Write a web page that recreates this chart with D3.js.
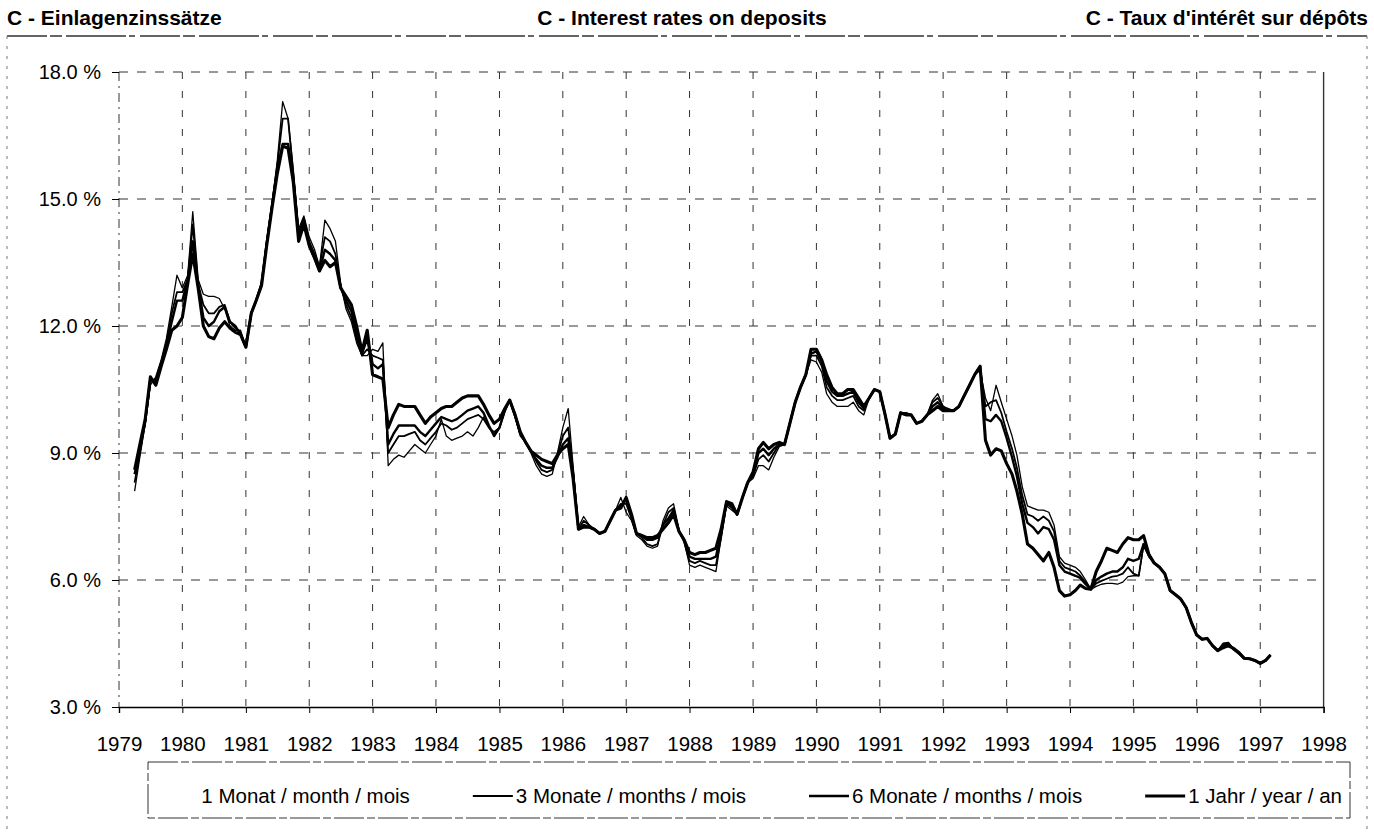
<!DOCTYPE html>
<html><head><meta charset="utf-8">
<script src="https://cdn.jsdelivr.net/npm/d3@7"></script>
<style>
body{margin:0;background:#fff}
svg{display:block}
text{font-family:"Liberation Sans",Arial,Helvetica,sans-serif;fill:#000}
</style>
</head><body>
<svg id="chart" width="1374" height="835"></svg>
<script>
// ---------------- data ----------------
const titles = ["C - Einlagenzinssätze", "C - Interest rates on deposits", "C - Taux d'intérêt sur dépôts"];
const firstMonth = [1979, 3];   // April 1979 (month index 0-based)
const lastMonth = [1997, 2];    // March 1997
const yTickValues = [3, 6, 9, 12, 15, 18];
const xTickLabels = ["1979","1980","1981","1982","1983","1984","1985","1986","1987","1988","1989","1990","1991","1992","1993","1994","1995","1996","1997","1998"];
const seriesNames = ["1 Monat / month / mois", "3 Monate / months / mois", "6 Monate / months / mois", "1 Jahr / year / an"];

const oneMonth = [
  8.1, 8.9, 9.7, 10.6, 10.8, 11.2, 11.7, 12.45, 13.2,
  12.9, 13.2, 14.7, 13.1, 12.75, 12.7, 12.7, 12.65, 12.4, 12.0, 11.9, 11.9,
  11.5, 12.3, 12.6, 13.0, 14.0, 14.9, 15.9, 17.3, 16.9, 15.7, 14.3, 14.6,
  14.1, 13.8, 13.4, 14.5, 14.3, 14.0, 13.0, 12.4, 12.1, 11.6, 11.3, 11.3,
  11.45, 11.4, 11.6, 8.7, 8.85, 8.95, 8.9, 9.05, 9.2, 9.1, 9.0, 9.2,
  9.4, 9.8, 9.4, 9.3, 9.35, 9.4, 9.5, 9.4, 9.6, 9.85, 9.6, 9.5,
  9.6, 10.0, 10.25, 9.85, 9.4, 9.25, 9.0, 8.7, 8.5, 8.45, 8.5, 9.0,
  9.6, 10.05, 8.7, 7.25, 7.5, 7.3, 7.2, 7.1, 7.15, 7.4, 7.65, 7.95,
  7.6, 7.4, 7.05, 6.95, 6.8, 6.75, 6.8, 7.4, 7.7, 7.8, 7.2, 6.9,
  6.35, 6.3, 6.35, 6.3, 6.25, 6.2, 7.0, 7.75, 7.65, 7.55, 7.95, 8.3,
  8.4, 8.7, 8.7, 8.6, 8.9, 9.15, 9.2, 9.7, 10.2, 10.55, 10.85, 11.2,
  11.15, 10.9, 10.4, 10.2, 10.1, 10.1, 10.1, 10.2, 10.0, 9.9, 10.3, 10.5,
  10.45, 9.9, 9.35, 9.45, 9.95, 9.95, 9.9, 9.7, 9.75, 9.9, 10.25, 10.4,
  10.1, 10.05, 10.0, 10.1, 10.35, 10.6, 10.85, 10.95, 10.3, 10.0, 10.6, 10.2,
  9.8, 9.4, 8.95, 8.2, 7.75, 7.7, 7.65, 7.65, 7.6, 7.3, 6.55, 6.4,
  6.35, 6.3, 6.2, 6.0, 5.78, 5.85, 5.9, 5.92, 5.92, 5.9, 5.95, 6.08,
  6.1, 6.1, 6.8, 6.55, 6.4, 6.3, 6.15, 5.75, 5.65, 5.55, 5.35, 5.0,
  4.7, 4.6, 4.62, 4.45, 4.33, 4.45, 4.52, 4.38, 4.28, 4.15, 4.14, 4.1,
  4.03, 4.1, 4.23
];
const threeMonths = [
  8.3, 9.0, 9.7, 10.7, 10.75, 11.15, 11.6, 12.3, 12.8,
  12.8, 13.1, 14.4, 13.0, 12.5, 12.3, 12.3, 12.45, 12.5, 12.1, 11.95, 11.85,
  11.5, 12.3, 12.6, 13.0, 14.0, 14.9, 15.8, 16.9, 16.9, 15.6, 14.2, 14.55,
  14.0, 13.7, 13.4, 14.1, 14.0, 13.7, 12.95, 12.5, 12.2, 11.7, 11.3, 11.45,
  11.3, 11.25, 11.2, 9.0, 9.2, 9.4, 9.4, 9.45, 9.5, 9.3, 9.2, 9.35,
  9.5, 9.7, 9.65, 9.55, 9.6, 9.7, 9.8, 9.85, 9.9, 9.8, 9.6, 9.45,
  9.6, 10.0, 10.25, 9.85, 9.45, 9.25, 9.05, 8.8, 8.6, 8.55, 8.6, 8.95,
  9.4, 9.6, 8.6, 7.2, 7.4, 7.3, 7.2, 7.1, 7.15, 7.4, 7.65, 7.8,
  7.8, 7.45, 7.1, 7.0, 6.85, 6.8, 6.85, 7.3, 7.6, 7.7, 7.15, 6.9,
  6.45, 6.4, 6.45, 6.4, 6.35, 6.35, 7.0, 7.8, 7.7, 7.55, 7.95, 8.3,
  8.45, 8.85, 8.95, 8.8, 9.0, 9.2, 9.2, 9.7, 10.2, 10.55, 10.85, 11.3,
  11.3, 11.05, 10.55, 10.35, 10.25, 10.25, 10.3, 10.35, 10.1, 10.0, 10.3, 10.5,
  10.45, 9.9, 9.35, 9.45, 9.95, 9.95, 9.9, 9.7, 9.75, 9.9, 10.2, 10.3,
  10.1, 10.0, 10.0, 10.1, 10.35, 10.6, 10.85, 11.0, 10.1, 10.2, 10.25, 9.95,
  9.5, 9.1, 8.65, 8.0, 7.55, 7.5, 7.4, 7.5, 7.4, 7.15, 6.45, 6.3,
  6.25, 6.2, 6.1, 5.95, 5.78, 5.92, 5.98, 6.03, 6.08, 6.1, 6.15, 6.3,
  6.15, 6.1, 6.85, 6.55, 6.4, 6.3, 6.15, 5.75, 5.65, 5.55, 5.35, 5.0,
  4.7, 4.6, 4.62, 4.45, 4.33, 4.5, 4.52, 4.35, 4.25, 4.15, 4.14, 4.1,
  4.03, 4.1, 4.23
];
const sixMonths = [
  8.5, 9.1, 9.75, 10.75, 10.7, 11.1, 11.55, 12.1, 12.6,
  12.6, 13.1, 14.0, 12.95, 12.2, 12.0, 12.1, 12.35, 12.45, 12.1, 12.0, 11.8,
  11.5, 12.3, 12.6, 13.0, 13.95, 14.85, 15.7, 16.3, 16.3, 15.5, 14.1, 14.5,
  13.9, 13.6, 13.3, 13.8, 13.7, 13.55, 12.9, 12.6, 12.35, 11.8, 11.35, 11.7,
  11.1, 11.0, 11.1, 9.2, 9.45, 9.65, 9.65, 9.65, 9.65, 9.5, 9.4, 9.55,
  9.7, 9.85, 9.8, 9.75, 9.8, 9.9, 10.0, 10.05, 10.1, 9.95, 9.65, 9.4,
  9.6, 10.0, 10.25, 9.9, 9.45, 9.25, 9.05, 8.85, 8.7, 8.65, 8.65, 8.9,
  9.2, 9.35, 8.5, 7.2, 7.3, 7.25, 7.2, 7.1, 7.15, 7.4, 7.65, 7.75,
  7.9, 7.5, 7.1, 7.05, 6.95, 6.95, 7.0, 7.3, 7.45, 7.65, 7.15, 6.95,
  6.55, 6.5, 6.5, 6.5, 6.5, 6.55, 7.1, 7.85, 7.75, 7.55, 7.95, 8.3,
  8.5, 9.0, 9.1, 8.95, 9.1, 9.2, 9.2, 9.7, 10.2, 10.55, 10.85, 11.35,
  11.4, 11.15, 10.7, 10.45, 10.35, 10.35, 10.4, 10.45, 10.2, 10.05, 10.3, 10.5,
  10.45, 9.9, 9.35, 9.45, 9.95, 9.9, 9.9, 9.7, 9.75, 9.9, 10.1, 10.2,
  10.05, 10.0, 10.0, 10.1, 10.35, 10.6, 10.85, 11.05, 9.8, 9.75, 9.9, 9.75,
  9.35, 8.9, 8.45, 7.8, 7.35, 7.25, 7.1, 7.25, 7.2, 6.95, 6.35, 6.2,
  6.15, 6.1, 6.05, 5.9, 5.78, 6.0, 6.08, 6.15, 6.2, 6.2, 6.3, 6.5,
  6.45, 6.5, 6.85, 6.6, 6.4, 6.3, 6.15, 5.75, 5.65, 5.55, 5.35, 5.0,
  4.7, 4.6, 4.62, 4.45, 4.33, 4.45, 4.47, 4.38, 4.28, 4.15, 4.14, 4.1,
  4.03, 4.1, 4.23
];
const oneYear = [
  8.6, 9.2, 9.8, 10.8, 10.6, 11.05, 11.45, 11.9, 12.0,
  12.2, 13.0, 13.7, 12.9, 12.0, 11.75, 11.7, 11.95, 12.1, 11.95, 11.85, 11.8,
  11.5, 12.3, 12.6, 12.95, 13.9, 14.8, 15.6, 16.25, 16.2, 15.4, 14.0, 14.4,
  13.9, 13.6, 13.3, 13.55, 13.4, 13.5, 12.9, 12.7, 12.5, 12.0, 11.4, 11.9,
  10.85, 10.8, 10.75, 9.6, 9.9, 10.15, 10.1, 10.1, 10.1, 9.9, 9.7, 9.85,
  9.95, 10.05, 10.1, 10.1, 10.2, 10.3, 10.35, 10.35, 10.35, 10.15, 9.9, 9.7,
  9.8, 10.05, 10.25, 9.9, 9.5, 9.25, 9.05, 8.95, 8.85, 8.8, 8.75, 8.95,
  9.1, 9.2, 8.4, 7.2, 7.25, 7.25, 7.2, 7.1, 7.15, 7.4, 7.65, 7.7,
  7.95, 7.55, 7.1, 7.05, 7.0, 7.0, 7.05, 7.2, 7.35, 7.55, 7.15, 6.95,
  6.65, 6.6, 6.65, 6.65, 6.7, 6.75, 7.2, 7.85, 7.8, 7.55, 7.95, 8.3,
  8.55, 9.1, 9.25, 9.1, 9.2, 9.25, 9.2, 9.7, 10.2, 10.55, 10.85, 11.45,
  11.45, 11.2, 10.85, 10.55, 10.4, 10.4, 10.5, 10.5, 10.3, 10.1, 10.3, 10.5,
  10.45, 9.9, 9.35, 9.45, 9.95, 9.9, 9.9, 9.7, 9.75, 9.9, 10.0, 10.1,
  10.0, 10.0, 10.0, 10.1, 10.35, 10.6, 10.85, 11.05, 9.3, 8.95, 9.1, 9.05,
  8.75, 8.5, 8.1, 7.55, 6.85, 6.75, 6.6, 6.45, 6.65, 6.3, 5.75, 5.62,
  5.65, 5.75, 5.88, 5.8, 5.78, 6.2, 6.45, 6.75, 6.7, 6.65, 6.85, 7.0,
  6.95, 6.95, 7.05, 6.6, 6.4, 6.3, 6.15, 5.75, 5.65, 5.55, 5.35, 5.0,
  4.7, 4.6, 4.62, 4.45, 4.33, 4.4, 4.45, 4.38, 4.28, 4.15, 4.14, 4.1,
  4.03, 4.1, 4.23
];
const seriesValues = [oneMonth, threeMonths, sixMonths, oneYear];
const seriesWidths = [1.3, 1.8, 2.4, 3.1];

// ---------------- layout ----------------
const svg = d3.select("#chart");
const plot = {left: 119, right: 1323.6, top: 72, bottom: 707};
const labelFont = 20.5;

const months = d3.timeMonth.range(new Date(firstMonth[0], firstMonth[1], 1), new Date(lastMonth[0], lastMonth[1] + 1, 1));

const x = d3.scaleTime()
  .domain([new Date(+xTickLabels[0], 0, 1), new Date(+xTickLabels[xTickLabels.length - 1], 0, 1)])
  .range([plot.left, plot.right]);
const y = d3.scaleLinear().domain([3, 18]).range([plot.bottom, plot.top]);

// outer frame
const frame = svg.append("g").attr("stroke", "#333").attr("fill", "none");
frame.append("line").attr("x1", 7).attr("x2", 1367).attr("y1", 36).attr("y2", 36)
  .attr("stroke-dasharray", "40,3,12,4,60,3,6,5").attr("stroke-width", 1.3);
frame.append("line").attr("x1", 7).attr("x2", 7).attr("y1", 36).attr("y2", 835)
  .attr("stroke-dasharray", "3,7").attr("stroke-width", 1).attr("stroke", "#777");
frame.append("line").attr("x1", 1367).attr("x2", 1367).attr("y1", 36).attr("y2", 835)
  .attr("stroke-dasharray", "3,7").attr("stroke-width", 1).attr("stroke", "#777");

// titles
svg.append("text").attr("x", 7).attr("y", 25).attr("font-size", 21).attr("font-weight", "bold").text(titles[0]);
svg.append("text").attr("x", 682).attr("y", 25).attr("text-anchor", "middle").attr("font-size", 21).attr("font-weight", "bold").text(titles[1]);
svg.append("text").attr("x", 1368).attr("y", 25).attr("text-anchor", "end").attr("font-size", 21).attr("font-weight", "bold").text(titles[2]);

// grid
const yearDates = xTickLabels.map(s => new Date(+s, 0, 1));
const grid = svg.append("g").attr("stroke", "#333").attr("fill", "none");
grid.selectAll("line.h").data(yTickValues.filter(v => v > 3)).join("line")
  .attr("x1", plot.left).attr("x2", plot.right)
  .attr("y1", d => y(d)).attr("y2", d => y(d))
  .attr("stroke-width", 1).attr("stroke-dasharray", "9,9");
grid.selectAll("line.v").data(yearDates.slice(1, -1)).join("line")
  .attr("x1", d => x(d)).attr("x2", d => x(d))
  .attr("y1", plot.top).attr("y2", plot.bottom)
  .attr("stroke-width", 1).attr("stroke-dasharray", "7,12");
// left axis (dash-dot) and right border
grid.append("line").attr("x1", plot.left).attr("x2", plot.left).attr("y1", plot.top).attr("y2", plot.bottom)
  .attr("stroke-dasharray", "9,5,2,5").attr("stroke-width", 1);
grid.append("line").attr("x1", plot.right).attr("x2", plot.right).attr("y1", plot.top).attr("y2", plot.bottom)
  .attr("stroke-width", 1.4);

// axes
const yAxis = d3.axisLeft(y).tickValues(yTickValues).tickSize(7).tickPadding(11)
  .tickFormat(d => d.toFixed(1) + " %");
const gy = svg.append("g").attr("transform", `translate(${plot.left},0)`).call(yAxis);
gy.select(".domain").remove();
gy.selectAll("text").attr("font-size", 20).attr("font-family", '"Liberation Sans",Arial,sans-serif');

const xAxis = d3.axisBottom(x).tickValues(yearDates).tickSize(6).tickPadding(23)
  .tickFormat((d, i) => xTickLabels[i]);
const gx = svg.append("g").attr("transform", `translate(0,${plot.bottom})`).call(xAxis);
gx.select(".domain").attr("stroke-width", 1.4);
gx.selectAll("text").attr("font-size", labelFont).attr("font-family", '"Liberation Sans",Arial,sans-serif');

// series lines
const line = d3.line().x((d, i) => x(months[i])).y(d => y(d)).curve(d3.curveLinear);
svg.append("g").selectAll("path").data(seriesValues).join("path")
  .attr("d", d => line(d))
  .attr("fill", "none").attr("stroke", "#000")
  .attr("stroke-width", (d, i) => seriesWidths[i])
  .attr("stroke-linejoin", "round");

// legend: entries laid out right-aligned with equal gaps; the first key line is invisible in the original
const lg = svg.append("g");
lg.append("rect").attr("x", 148).attr("y", 762).attr("width", 1202).attr("height", 56)
  .attr("fill", "none").attr("stroke", "#333").attr("stroke-width", 1).attr("stroke-dasharray", "30,3,8,3");
const keyLen = 40, keyGap = 3, entryGap = 63, legendRight = 1342;
const texts = seriesNames.map(name => lg.append("text").attr("y", 803).attr("font-size", labelFont).text(name));
const widths = texts.map(t => t.node().getComputedTextLength());
let cursor = legendRight;
for (let k = seriesNames.length - 1; k >= 0; k--) {
  cursor -= widths[k];
  texts[k].attr("x", cursor);
  if (k > 0) {
    lg.append("line").attr("x1", cursor - keyGap - keyLen).attr("x2", cursor - keyGap)
      .attr("y1", 796).attr("y2", 796).attr("stroke", "#000").attr("stroke-width", seriesWidths[k]);
    cursor -= keyGap + keyLen + entryGap;
  }
}
</script>
</body></html>
